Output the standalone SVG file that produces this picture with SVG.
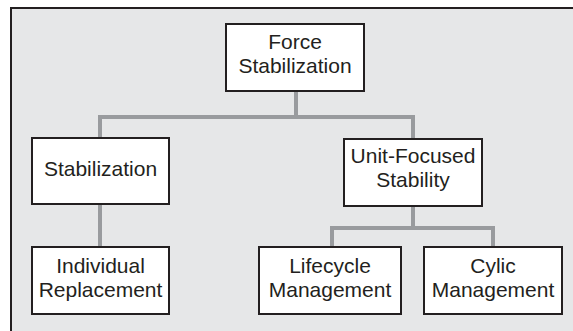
<svg xmlns="http://www.w3.org/2000/svg" width="573" height="331" viewBox="0 0 573 331">
<style>
.box{fill:#ffffff;stroke:#231f20;stroke-width:2}
.lbl{font-family:"Liberation Sans",Arial,sans-serif;font-size:21px;fill:#231f20;text-anchor:middle}
.con{fill:none;stroke:#999b9e;stroke-width:4}
</style>
<rect x="11" y="8" width="620" height="400" fill="#e6e7e8" stroke="#231f20" stroke-width="2"/>
<g id="connectors">
<path class="con" d="M296 91 V117 M100 138 V117 H413 V139"/>
<path class="con" d="M100 204 V247"/>
<path class="con" d="M413 206 V228 M332 247 V228 H493 V247"/>
</g>
<g id="force-stabilization">
<rect class="box" x="226" y="24" width="138" height="67"/>
<text class="lbl" x="295" y="48.5">Force</text>
<text class="lbl" x="295" y="72.5">Stabilization</text>
</g>
<g id="stabilization">
<rect class="box" x="32" y="138" width="137" height="66"/>
<text class="lbl" x="100.5" y="176">Stabilization</text>
</g>
<g id="unit-focused-stability">
<rect class="box" x="344" y="139" width="138" height="67"/>
<text class="lbl" x="413" y="163.3">Unit-Focused</text>
<text class="lbl" x="413" y="186.7">Stability</text>
</g>
<g id="individual-replacement">
<rect class="box" x="32" y="247" width="137" height="67"/>
<text class="lbl" x="100.5" y="273.3">Individual</text>
<text class="lbl" x="100.5" y="296.7">Replacement</text>
</g>
<g id="lifecycle-management">
<rect class="box" x="259" y="247" width="142" height="67"/>
<text class="lbl" x="330" y="273.3">Lifecycle</text>
<text class="lbl" x="330" y="296.7">Management</text>
</g>
<g id="cylic-management">
<rect class="box" x="424" y="247" width="138" height="67"/>
<text class="lbl" x="493" y="273.3">Cylic</text>
<text class="lbl" x="493" y="296.7">Management</text>
</g>
</svg>
